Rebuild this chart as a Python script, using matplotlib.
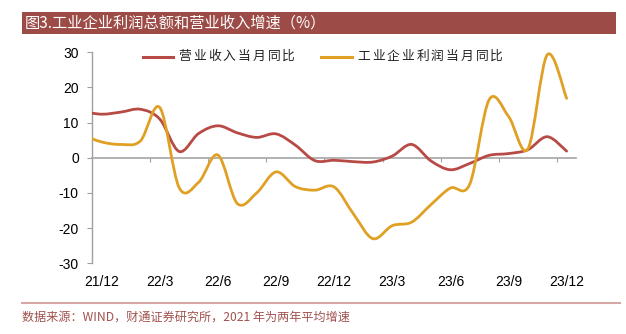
import matplotlib
matplotlib.use("Agg")
import matplotlib.pyplot as plt
from matplotlib.path import Path
from matplotlib.patches import PathPatch, Rectangle
from matplotlib.lines import Line2D
import matplotlib.transforms as mtransforms
import numpy as np

plt.rcParams['font.family'] = ['Noto Sans CJK SC', 'DejaVu Sans']

# ---------------- data ----------------
months = ['21/11', '21/12', '22/1', '22/2', '22/3', '22/4', '22/5', '22/6', '22/7',
          '22/8', '22/9', '22/10', '22/11', '22/12', '23/1', '23/2', '23/3', '23/4',
          '23/5', '23/6', '23/7', '23/8', '23/9', '23/10', '23/11', '23/12']
revenue = [13.2, 12.4, 13.0, 13.8, 11.0, 1.8, 6.9, 9.1, 7.1, 5.8, 6.8, 3.6, -0.8,
           -0.7, -1.1, -1.2, 0.5, 3.8, -0.9, -3.4, -1.6, 0.7, 1.2, 2.3, 6.0, 1.9]
profit = [6.5, 4.5, 3.8, 4.8, 14.3, -8.5, -7.0, 0.8, -13.0, -10.0, -4.0, -8.2, -9.2,
          -8.3, -16.0, -23.0, -19.3, -18.3, -13.3, -8.6, -7.5, 16.5, 11.8, 2.5, 29.3, 16.9]
xlabels = ['21/12', '22/3', '22/6', '22/9', '22/12', '23/3', '23/6', '23/9', '23/12']
yticks = [30, 20, 10, 0, -10, -20, -30]
series_names = ['营业收入当月同比', '工业企业利润当月同比']
title = '图3.工业企业利润总额和营业收入增速（%）'
source = '数据来源：WIND，财通证券研究所，2021 年为两年平均增速'

RED = '#B84A46'
GOLD = '#E0A024'
BAR = '#9C4B46'

W, H = 626, 334
fig = plt.figure(figsize=(W / 100, H / 100), dpi=100)


def fx(px):
    return px / W


def fy(py):
    return 1 - py / H


ax = fig.add_axes([fx(92), fy(263.3), fx(576.3) - fx(92), fy(52.3) - fy(263.3)])


def smooth_path(xs, ys):
    xs = np.asarray(xs, float)
    ys = np.asarray(ys, float)
    n = len(xs)
    verts = [(xs[0], ys[0])]
    codes = [Path.MOVETO]
    for i in range(n - 1):
        p0 = i - 1 if i > 0 else i
        p3 = i + 2 if i + 2 < n else i + 1
        c1 = (xs[i] + (xs[i + 1] - xs[p0]) / 6, ys[i] + (ys[i + 1] - ys[p0]) / 6)
        c2 = (xs[i + 1] - (xs[p3] - xs[i]) / 6, ys[i + 1] - (ys[p3] - ys[i]) / 6)
        verts += [c1, c2, (xs[i + 1], ys[i + 1])]
        codes += [Path.CURVE4] * 3
    return Path(verts, codes)


x = np.arange(len(months))
for vals, col in [(revenue, RED), (profit, GOLD)]:
    patch = PathPatch(smooth_path(x, vals), facecolor='none', edgecolor=col,
                      lw=2.0, capstyle='round', joinstyle='round', zorder=3)
    ax.add_patch(patch)

first = months.index(xlabels[0])
ax.set_xlim(first - 0.5, len(months) - 0.5)
ax.set_ylim(-30, 30)

for s in ['top', 'right']:
    ax.spines[s].set_visible(False)
ax.spines['left'].set_color('#A0A0A0')
ax.spines['left'].set_linewidth(1.0)
ax.spines['bottom'].set_position(('data', 0))
ax.spines['bottom'].set_color('#A6A6A6')
ax.spines['bottom'].set_linewidth(1.2)

ax.set_yticks(yticks)
ax.set_yticklabels([str(v) for v in yticks], family='Liberation Sans', fontsize=10)
ax.tick_params(axis='y', direction='out', length=3.5, width=0.8, color='#A0A0A0', pad=6)

tick_pos = [months.index(l) - 0.5 for l in xlabels[1:]]
ax.set_xticks(tick_pos)
ax.set_xticklabels([''] * len(tick_pos))
ax.tick_params(axis='x', direction='out', length=3, width=0.8, color='#A0A0A0')

trans = mtransforms.blended_transform_factory(ax.transData, ax.transAxes)
for lbl in xlabels:
    ax.text(months.index(lbl), (263.3 - 282) / 211, lbl, transform=trans,
            ha='center', va='center', family='Liberation Sans', fontsize=10)

# legend (manual, letter-spaced text)
ly = fy(56.7)
for (x0, x1, tx, adv), name, col in zip([(143, 173, 178, 14.9), (321, 352, 357, 14.8)],
                                        series_names, [RED, GOLD]):
    fig.add_artist(Line2D([fx(x0), fx(x1)], [ly, ly], color=col, lw=2.2))
    for k, ch in enumerate(name):
        fig.text(fx(tx + k * adv), ly, ch, va='center', ha='left', fontsize=9.2,
                 color='#222222')

# title bar
fig.add_artist(Rectangle((fx(22), fy(34.3)), fx(616) - fx(22), fy(12.3) - fy(34.3),
                         facecolor=BAR, edgecolor='none', transform=fig.transFigure))
fig.text(fx(25), fy(23.5), title, va='center', ha='left', fontsize=11, color='white')

# footer
fig.add_artist(Line2D([fx(22), fx(620)], [fy(303), fy(303)], color='#D6A8A5', lw=1.5))
fig.text(fx(22), fy(317), source, va='center', ha='left', fontsize=8.7, color='#A0524E')

fig.savefig('out.png', dpi=100)
